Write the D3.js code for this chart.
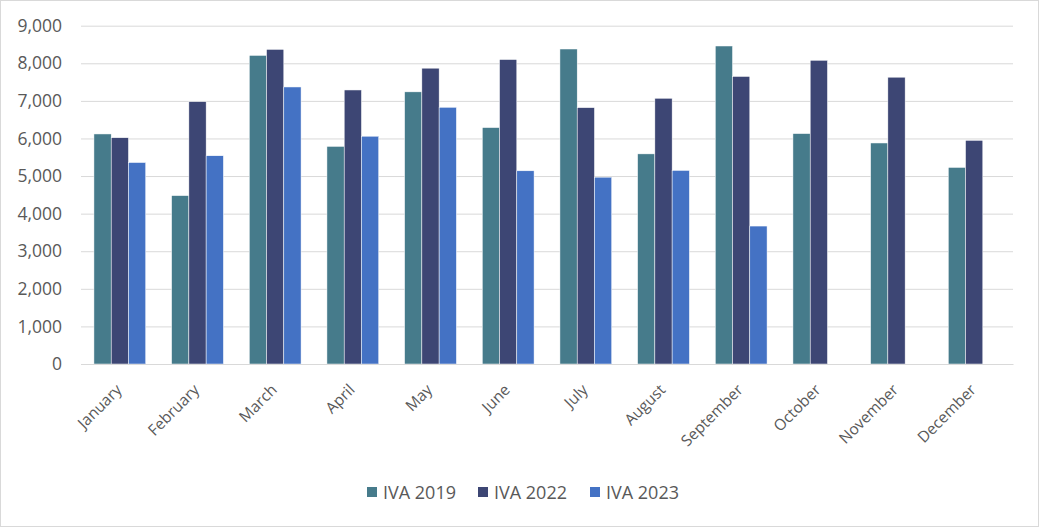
<!DOCTYPE html>
<html>
<head>
<meta charset="utf-8">
<script src="https://cdn.jsdelivr.net/npm/d3@7"></script>
<style>
  body { margin: 0; background: #fff; }
  text { font-family: "Open Sans", sans-serif; fill: #595959; }
</style>
</head>
<body>
<div id="chart"></div>
<script>
const months = ['January', 'February', 'March', 'April', 'May', 'June', 'July', 'August', 'September', 'October', 'November', 'December'];
const seriesNames = ['IVA 2019', 'IVA 2022', 'IVA 2023'];
const iva2019 = [6120, 4480, 8210, 5790, 7240, 6290, 8380, 5590, 8460, 6130, 5880, 5230];
const iva2022 = [6020, 6980, 8370, 7290, 7870, 8100, 6820, 7070, 7650, 8080, 7630, 5950];
const iva2023 = [5360, 5540, 7370, 6060, 6830, 5140, 4970, 5150, 3670, null, null, null];
const yTicks = [0, 1000, 2000, 3000, 4000, 5000, 6000, 7000, 8000, 9000];
const colors = ['#467B8B', '#3D4674', '#4472C4'];

const w = 1039;
const h = 527;
const plotLeft = 81, plotRight = 1013, plotTop = 25.7, plotBottom = 364;

const data = months.map((m, i) => ({
  month: m,
  values: [iva2019[i], iva2022[i], iva2023[i]]
}));

const svg = d3.select('#chart')
  .append('svg')
  .attr('width', w)
  .attr('height', h);

svg.append('rect')
  .attr('x', 0.5).attr('y', 0.5)
  .attr('width', w - 1).attr('height', h - 1)
  .attr('fill', '#fff')
  .attr('stroke', '#D9D9D9');

const xScale = d3.scaleBand()
  .domain(months)
  .range([plotLeft, plotRight])
  .paddingInner(0.333)
  .paddingOuter(0.1665);

const xSub = d3.scaleBand()
  .domain(seriesNames)
  .range([0, xScale.bandwidth()]);

const yScale = d3.scaleLinear()
  .domain([0, 9000])
  .range([plotBottom, plotTop]);

// gridlines
const yAxis = d3.axisLeft(yScale)
  .tickValues(yTicks)
  .tickSize(-(plotRight - plotLeft))
  .tickPadding(19)
  .tickFormat(d3.format(','));

const gy = svg.append('g')
  .attr('transform', `translate(${plotLeft},0)`)
  .call(yAxis);
gy.select('.domain').remove();
gy.selectAll('line').attr('stroke', '#D9D9D9').attr('stroke-width', 1);
gy.selectAll('text').style('font-size', '17.5px').style('fill', '#595959');

const groups = svg.selectAll('g.month')
  .data(data)
  .enter()
  .append('g')
  .attr('class', 'month')
  .attr('transform', d => `translate(${xScale(d.month)},0)`);

groups.selectAll('rect')
  .data(d => d.values.map((v, i) => ({ name: seriesNames[i], value: v, i })).filter(d => d.value != null))
  .enter()
  .append('rect')
  .attr('x', d => xSub(d.name))
  .attr('y', d => yScale(d.value))
  .attr('width', xSub.bandwidth())
  .attr('height', d => plotBottom - yScale(d.value))
  .attr('fill', d => colors[d.i])
  .attr('stroke', '#fff')
  .attr('stroke-width', 0.5);

const xAxis = d3.axisBottom(xScale).tickSize(0).tickPadding(0);
const gx = svg.append('g')
  .attr('transform', `translate(0,${plotBottom})`)
  .call(xAxis);
gx.select('.domain').attr('stroke', '#D9D9D9');
gx.selectAll('text')
  .style('font-size', '15.5px')
  .style('fill', '#595959')
  .attr('text-anchor', 'end')
  .attr('y', 0)
  .attr('dy', '0.35em')
  .attr('transform', 'translate(-1,23) rotate(-45)');

// legend
const legendX = [367, 478, 590];
const legend = svg.append('g');
seriesNames.forEach((s, i) => {
  legend.append('rect')
    .attr('x', legendX[i]).attr('y', 487)
    .attr('width', 10).attr('height', 10)
    .attr('fill', colors[i]);
  legend.append('text')
    .attr('x', legendX[i] + 16).attr('y', 499)
    .style('font-size', '18px')
    .text(s);
});
</script>
</body>
</html>
